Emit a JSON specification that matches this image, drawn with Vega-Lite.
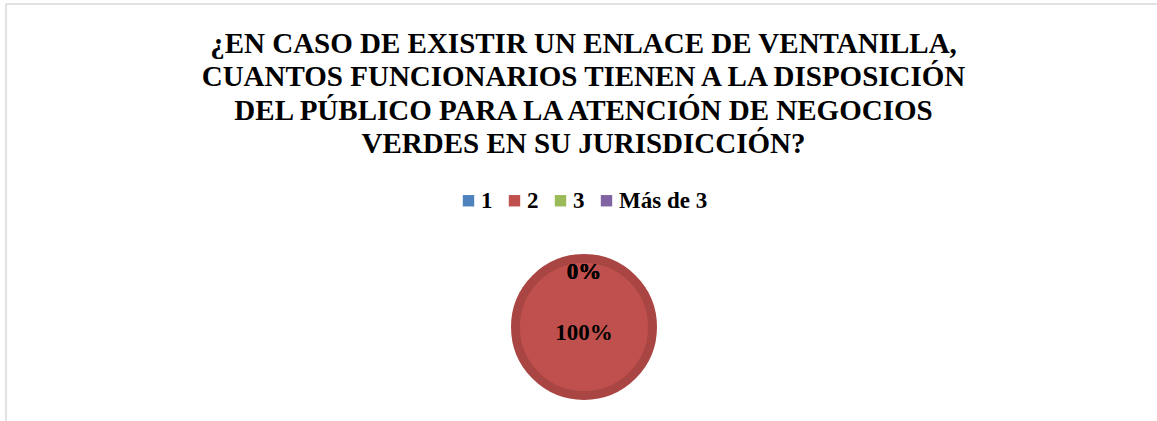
{
  "$schema": "https://vega.github.io/schema/vega-lite/v6.json",
  "width": 1157,
  "height": 421,
  "autosize": {"type": "fit", "contains": "padding"},
  "padding": {"left": 6, "top": 4, "right": -2, "bottom": -2},
  "background": "white",
  "view": {"stroke": "#d9d9d9", "strokeWidth": 1.5, "fill": "white"},
  "config": {
    "font": "Liberation Serif"
  },
  "title": {
    "text": [
      "¿EN CASO DE EXISTIR UN ENLACE DE VENTANILLA,",
      "CUANTOS FUNCIONARIOS TIENEN A LA DISPOSICIÓN",
      "DEL PÚBLICO PARA LA ATENCIÓN DE NEGOCIOS",
      "VERDES EN SU JURISDICCIÓN?"
    ],
    "font": "Liberation Serif",
    "fontSize": 29,
    "fontWeight": "bold",
    "color": "black",
    "anchor": "middle",
    "frame": "group",
    "orient": "top",
    "baseline": "top",
    "offset": -155,
    "lineHeight": 33.5,
    "dx": 1
  },
  "data": {
    "values": [
      {"categoria": "1", "valor": 0},
      {"categoria": "2", "valor": 1},
      {"categoria": "3", "valor": 0},
      {"categoria": "Más de 3", "valor": 0}
    ]
  },
  "layer": [
    {
      "transform": [{"filter": "datum.valor > 0"}],
      "mark": {
        "type": "arc",
        "outerRadius": 68.5,
        "stroke": "#a94643",
        "strokeWidth": 9,
        "xOffset": 1.5,
        "yOffset": 113.5
      },
      "encoding": {
        "theta": {"field": "valor", "type": "quantitative", "stack": true},
        "color": {
          "field": "categoria",
          "type": "nominal",
          "scale": {
            "domain": ["1", "2", "3", "Más de 3"],
            "range": ["#4f81bd", "#c0504d", "#9bbb59", "#8064a2"]
          },
          "legend": {
            "orient": "none",
            "legendX": 451,
            "legendY": 185,
            "direction": "horizontal",
            "title": null,
            "padding": 0,
            "symbolType": "square",
            "symbolSize": 130,
            "symbolStrokeWidth": 0,
            "labelFont": "Liberation Serif",
            "labelFontSize": 23,
            "labelFontWeight": "bold",
            "labelColor": "black",
            "labelOffset": 1,
            "columnPadding": 10
          }
        }
      }
    },
    {
      "transform": [{"filter": "datum.valor == 0"}],
      "mark": {
        "type": "text",
        "radius": 55,
        "font": "Liberation Serif",
        "fontSize": 23,
        "fontWeight": "bold",
        "color": "black",
        "baseline": "middle",
        "xOffset": 1.5,
        "yOffset": 113.5
      },
      "encoding": {
        "theta": {"field": "valor", "type": "quantitative", "stack": true},
        "text": {"field": "valor", "type": "quantitative", "format": ".0%"}
      }
    },
    {
      "transform": [{"filter": "datum.valor > 0"}],
      "mark": {
        "type": "text",
        "radius": 6,
        "font": "Liberation Serif",
        "fontSize": 23,
        "fontWeight": "bold",
        "color": "black",
        "baseline": "middle",
        "xOffset": 1.5,
        "yOffset": 113.5
      },
      "encoding": {
        "theta": {"field": "valor", "type": "quantitative", "stack": true},
        "text": {"field": "valor", "type": "quantitative", "format": ".0%"}
      }
    }
  ]
}
